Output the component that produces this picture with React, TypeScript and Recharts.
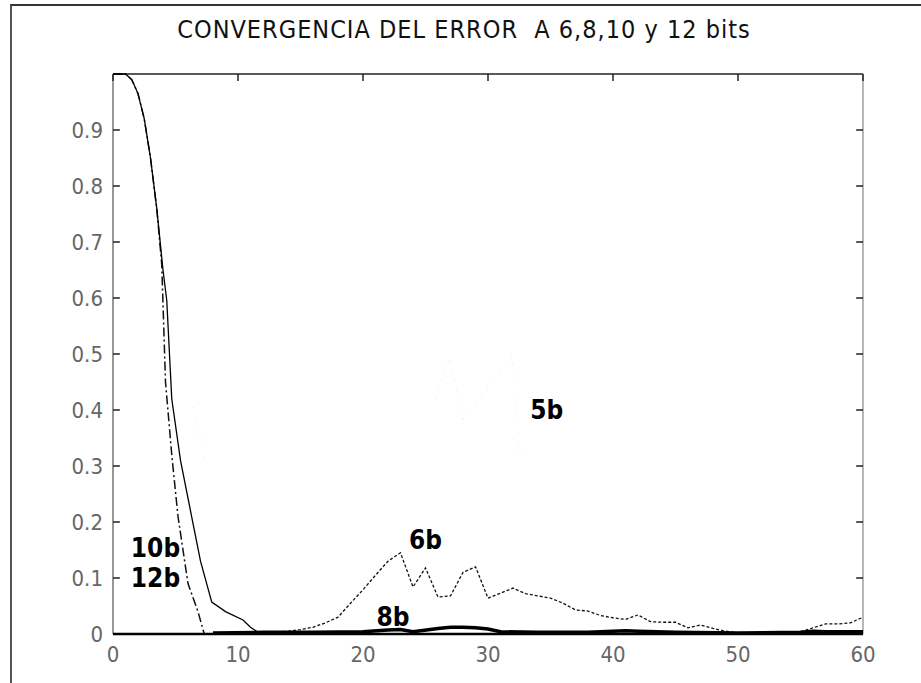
import { Line, LineChart, ReferenceDot, ReferenceLine, XAxis, YAxis } from 'recharts'

// error vs iteration
const x10 = [0, 1, 1.5, 2, 2.5, 3, 3.5, 4, 4.3, 4.7, 5.4, 6.2, 7, 7.9, 9, 10.4, 11, 11.8, 60]
const e10 = [1, 1, 0.99, 0.965, 0.92, 0.85, 0.76, 0.65, 0.596, 0.42, 0.31, 0.22, 0.13, 0.057, 0.04, 0.025, 0.012, 0, 0]

const x12 = [0, 1, 1.5, 2, 2.5, 3, 3.5, 3.9, 4.2, 4.7, 5.2, 6, 6.8, 7.3]
const e12 = [1, 1, 0.99, 0.965, 0.92, 0.85, 0.76, 0.66, 0.45, 0.32, 0.21, 0.09, 0.04, 0]

const x6 = [12, 13, 14, 15, 16, 17, 18, 19, 20, 21, 22, 23, 24, 25, 26, 27, 28, 29, 30, 31, 32, 33, 34, 35, 36, 37, 38, 39, 40, 41, 42, 43, 44, 45, 46, 47, 48, 49, 50, 51, 52, 53, 54, 55, 56, 57, 58, 59, 60]
const e6 = [0.002, 0.003, 0.005, 0.008, 0.012, 0.02, 0.03, 0.055, 0.079, 0.105, 0.13, 0.145, 0.084, 0.118, 0.066, 0.068, 0.11, 0.12, 0.064, 0.073, 0.082, 0.072, 0.068, 0.064, 0.055, 0.043, 0.041, 0.033, 0.029, 0.026, 0.034, 0.022, 0.021, 0.021, 0.011, 0.016, 0.01, 0.005, 0.002, 0, 0, 0, 0, 0.004, 0.011, 0.018, 0.018, 0.02, 0.03]

const x8 = [8, 12, 16, 20, 22, 23, 24, 26, 27, 28, 29, 30, 31, 34, 38, 40, 41, 42, 45, 50, 55, 56, 57, 60]
const e8 = [0.002, 0.003, 0.003, 0.004, 0.007, 0.008, 0.004, 0.01, 0.012, 0.012, 0.011, 0.009, 0.004, 0.003, 0.003, 0.005, 0.006, 0.005, 0.003, 0.002, 0.003, 0.005, 0.004, 0.004]

// 5b barely survived the scan, only a few faint bits are visible
const x5 = [6.4, 7.4, 16, 25.8, 26.9, 28, 31.9, 32.6]
const e5 = [0.405, 0.31, null, 0.418, 0.496, 0.384, 0.5, 0.31]

const curveNames = ['5b', '6b', '8b', '10b', '12b']
const nameX = [34.7, 25, 22.4, 3.4, 3.4]
const nameY = [0.4, 0.168, 0.03, 0.154, 0.1]

const xTicks = [0, 10, 20, 30, 40, 50, 60]
const yTicks = [0, 0.1, 0.2, 0.3, 0.4, 0.5, 0.6, 0.7, 0.8, 0.9]

const toPoints = (xs: number[], ys: (number | null)[]) => xs.map((x, i) => ({ x, y: ys[i] }))

const narrow = '"DejaVu Sans Condensed", "Liberation Sans Narrow", sans-serif'
const tickStyle = { fill: '#666', fontSize: 22, fontFamily: narrow }

// inward tick marks, matlab style (length in data units: ~7px)
const TX = 0.55
const TY = 0.0125

export default function App() {
  return (
    <div style={{ position: 'absolute', left: 0, top: 0, width: 921, height: 683, background: '#fff', overflow: 'hidden' }}>
      <div
        style={{
          position: 'absolute', left: 10, top: 4, width: 920, height: 677,
          borderLeft: '2px solid #555', borderTop: '2px solid #333', borderBottom: '1px solid #ccc',
        }}
      />
      <div
        style={{
          position: 'absolute', left: 0, width: 928, top: 15, textAlign: 'center',
          fontFamily: narrow, fontSize: 25, letterSpacing: 1, color: '#111',
        }}
      >
        CONVERGENCIA DEL ERROR&nbsp; A 6,8,10 y 12 bits
      </div>
      <div style={{ position: 'absolute', left: 0, top: 0 }}>
        <LineChart width={921} height={683} margin={{ top: 74, right: 58, bottom: 19, left: 53 }}>
          <XAxis
            dataKey="x" type="number" domain={[0, 60]} ticks={xTicks} allowDataOverflow
            height={30} axisLine={false} tickLine={false} tickMargin={6} tick={tickStyle}
          />
          <YAxis
            type="number" domain={[0, 1]} ticks={yTicks} width={60}
            axisLine={false} tickLine={false} tickMargin={4} tick={tickStyle}
            tickFormatter={(v: number) => (v === 0 ? '0' : v.toFixed(1))}
          />
          {/* box */}
          <ReferenceLine x={0} stroke="#555" strokeWidth={1.2} />
          <ReferenceLine x={60} stroke="#888" strokeWidth={1.2} />
          <ReferenceLine y={1} stroke="#222" strokeWidth={1.3} />
          {yTicks.map((v) => (
            <ReferenceLine key={'l' + v} segment={[{ x: 0, y: v }, { x: TX, y: v }]} stroke="#222" strokeWidth={1.5} />
          ))}
          {yTicks.map((v) => (
            <ReferenceLine key={'r' + v} segment={[{ x: 60 - TX, y: v }, { x: 60, y: v }]} stroke="#222" strokeWidth={1.5} />
          ))}
          {xTicks.map((v) => (
            <ReferenceLine key={'t' + v} segment={[{ x: v, y: 1 }, { x: v, y: 1 - TY }]} stroke="#222" strokeWidth={1.5} />
          ))}
          <Line data={toPoints(x5, e5)} dataKey="y" stroke="#e8e8e8" strokeWidth={1.2} strokeDasharray="1 9"
            dot={false} isAnimationActive={false} connectNulls={false} />
          <Line data={toPoints(x6, e6)} dataKey="y" stroke="#111" strokeWidth={1.3} strokeDasharray="3 2"
            dot={false} isAnimationActive={false} />
          <Line data={toPoints(x8, e8)} dataKey="y" stroke="#000" strokeWidth={3.5}
            dot={false} isAnimationActive={false} />
          <Line data={toPoints(x12, e12)} dataKey="y" stroke="#111" strokeWidth={1.5} strokeDasharray="9 3 2 3"
            dot={false} isAnimationActive={false} />
          <Line data={toPoints(x10, e10)} dataKey="y" stroke="#000" strokeWidth={1.3}
            dot={false} isAnimationActive={false} />
          <ReferenceLine y={0} stroke="#000" strokeWidth={2.5} />
          {curveNames.map((n, i) => (
            <ReferenceDot key={n} x={nameX[i]} y={nameY[i]} r={0} stroke="none" fill="none"
              label={{ value: n, position: 'center', fill: '#000', fontSize: 26, fontWeight: 'bold', fontFamily: narrow }} />
          ))}
        </LineChart>
      </div>
    </div>
  )
}
